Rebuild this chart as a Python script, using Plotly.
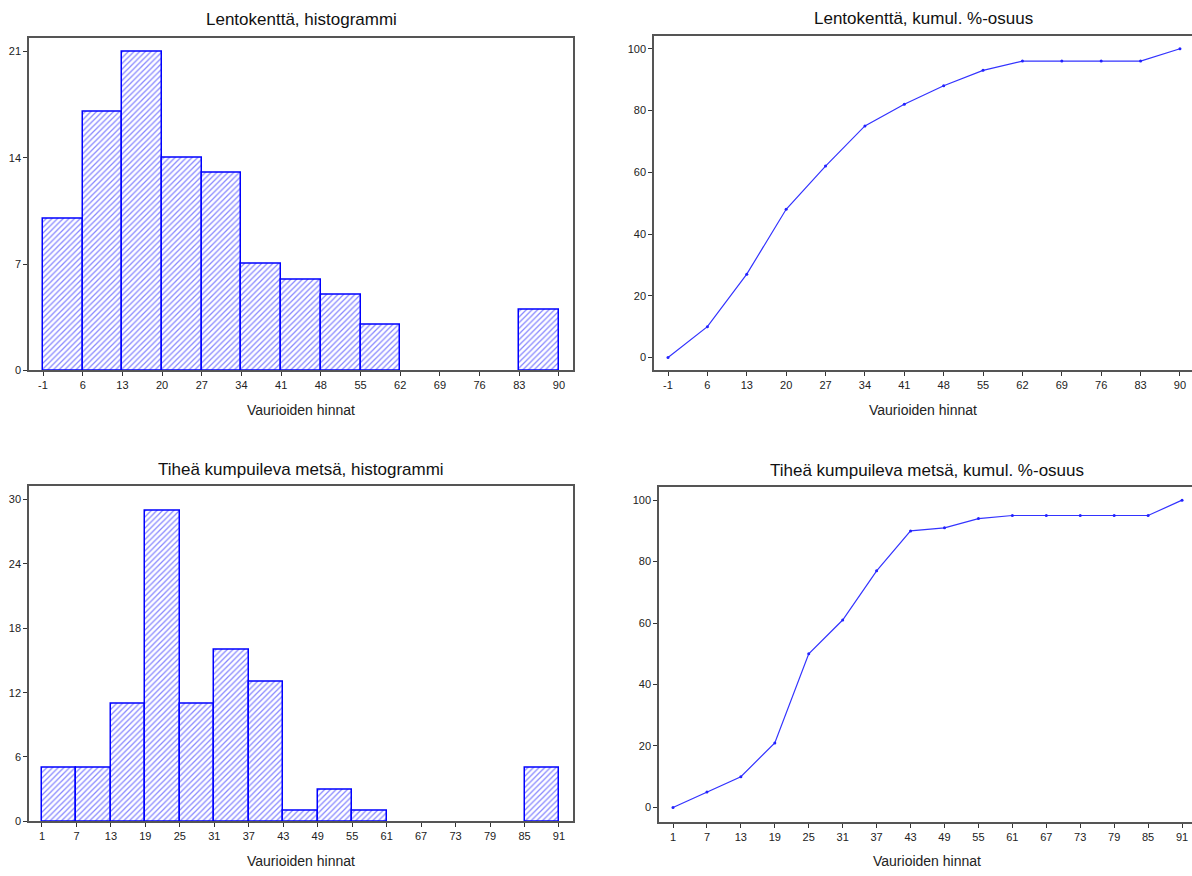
import plotly.graph_objects as go

# ---------------- data ----------------
lk_edges = [-1, 6, 13, 20, 27, 34, 41, 48, 55, 62, 69, 76, 83, 90]
lk_counts = [10, 17, 21, 14, 13, 7, 6, 5, 3, 0, 0, 0, 4]
lk_cum = [0, 10, 27, 48, 62, 75, 82, 88, 93, 96, 96, 96, 96, 100]

tk_edges = [1, 7, 13, 19, 25, 31, 37, 43, 49, 55, 61, 67, 73, 79, 85, 91]
tk_counts = [5, 5, 11, 29, 11, 16, 13, 1, 3, 1, 0, 0, 0, 0, 5]
tk_cum = [0, 5, 10, 21, 50, 61, 77, 90, 91, 94, 95, 95, 95, 95, 95, 100]

lk_hist_yticks = [0, 7, 14, 21]
tk_hist_yticks = [0, 6, 12, 18, 24, 30]
cum_yticks = [0, 20, 40, 60, 80, 100]

titles = ["Lentokenttä, histogrammi", "Lentokenttä, kumul. %-osuus",
          "Tiheä kumpuileva metsä, histogrammi", "Tiheä kumpuileva metsä, kumul. %-osuus"]
xtitle = "Vaurioiden hinnat"

# ---------------- layout helpers ----------------
W, H = 1192, 876
FONT = "Liberation Sans, Arial, sans-serif"


def px_x(p):
    return p / W


def px_y(p):
    return 1 - p / H


fig = go.Figure()

BLUE = "#0000ff"


def add_hist(edges, counts, xa, ya):
    centers = [(a + b) / 2 for a, b in zip(edges[:-1], edges[1:])]
    widths = [b - a for a, b in zip(edges[:-1], edges[1:])]
    # empty bins are left blank (no outline drawn along the baseline)
    heights = [c if c > 0 else None for c in counts]
    fig.add_trace(go.Bar(
        x=centers, y=heights, width=widths, xaxis=xa, yaxis=ya,
        marker=dict(color="white",
                    pattern=dict(shape="/", fgcolor="#1010ff", bgcolor="white",
                                 size=4, solidity=0.32),
                    line=dict(color=BLUE, width=1.5)),
        showlegend=False, hoverinfo="x+y"))


def add_cum(edges, cum, xa, ya):
    fig.add_trace(go.Scatter(
        x=edges, y=cum, xaxis=xa, yaxis=ya, mode="lines+markers",
        line=dict(color="#3333ff", width=1.2),
        marker=dict(color="#2222ff", size=3),
        showlegend=False))


add_hist(lk_edges, lk_counts, "x", "y")
add_cum(lk_edges, lk_cum, "x2", "y2")
add_hist(tk_edges, tk_counts, "x3", "y3")
add_cum(tk_edges, tk_cum, "x4", "y4")

axis_common = dict(showgrid=False, zeroline=False, showline=True,
                   linecolor="#555555", linewidth=1.5, ticks="outside",
                   ticklen=4, tickwidth=1, tickcolor="#333333",
                   tickfont=dict(family=FONT, size=11, color="#222222"),
                   fixedrange=True)

# pixel boxes: (left, right, top, bottom)
boxes = {
    1: (29, 573, 38, 373),
    2: (654, 1192, 36, 373),
    3: (29, 573, 489, 827),
    4: (659, 1192, 490, 828),
}

xranges = {1: [-3.47, 92.47], 2: [-3.49, 92.14], 3: [-1.26, 93.44], 4: [-1.475, 92.76]}
yranges = {1: [0, 21.9], 2: [-4.18, 104.2], 3: [0, 31.3], 4: [-4.85, 104.4]}
xticks = {1: lk_edges, 2: lk_edges, 3: tk_edges, 4: tk_edges}
yticks = {1: lk_hist_yticks, 2: cum_yticks, 3: tk_hist_yticks, 4: cum_yticks}

layout = {}
for i in range(1, 5):
    l, r, t, b = boxes[i]
    sx = "" if i == 1 else str(i)
    is_hist = i in (1, 3)
    layout["xaxis" + sx] = dict(axis_common, domain=[px_x(l), px_x(r)],
                                range=xranges[i], anchor="y" + sx,
                                tickvals=xticks[i],
                                ticktext=[str(v) for v in xticks[i]],
                                mirror=True)
    layout["yaxis" + sx] = dict(axis_common, domain=[px_y(b), px_y(t)],
                                range=yranges[i], anchor="x" + sx,
                                tickvals=yticks[i],
                                ticktext=[str(v) for v in yticks[i]],
                                mirror=True if is_hist else False)

annotations = []
title_pos = {1: 20, 2: 19, 3: 473, 4: 474}
xt_pos = {1: 413, 2: 413, 3: 867, 4: 867}
xt_center = {1: 301, 2: 923, 3: 301, 4: 927}
for i in range(1, 5):
    annotations.append(dict(text=titles[i - 1], x=px_x(xt_center[i]), y=px_y(title_pos[i]),
                            xref="paper", yref="paper", showarrow=False,
                            xanchor="center", yanchor="middle",
                            font=dict(family=FONT, size=17, color="#111111")))
    annotations.append(dict(text=xtitle, x=px_x(xt_center[i]), y=px_y(xt_pos[i]),
                            xref="paper", yref="paper", showarrow=False,
                            xanchor="center", yanchor="middle",
                            font=dict(family=FONT, size=14, color="#222222")))

fig.update_layout(
    width=W, height=H,
    margin=dict(l=0, r=0, t=0, b=0, pad=0),
    paper_bgcolor="white", plot_bgcolor="white",
    bargap=0, barmode="overlay",
    annotations=annotations,
    font=dict(family=FONT),
    **layout,
)

fig.write_html("out.html", post_script="document.body.style.margin='0';document.body.style.overflow='hidden';",
               config={"displayModeBar": False})
